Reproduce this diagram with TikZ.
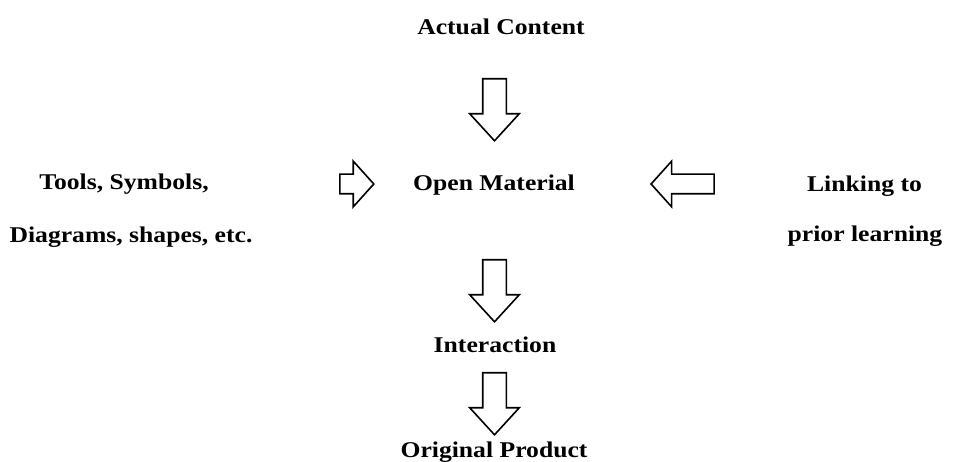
\documentclass[tikz,border=0pt]{standalone}
\usepackage{fontspec}
\setmainfont{Liberation Serif}[FakeStretch=1.14]
\usetikzlibrary{shapes.arrows,positioning}
\tikzset{
  term/.style={font=\fontsize{22.5}{27}\selectfont\bfseries, inner sep=0pt, anchor=base},
  hollow/.style={single arrow, draw, line width=1.6pt, fill=white, inner xsep=0pt,
                 single arrow tip angle=85},
  downarr/.style={hollow, rotate=-90, anchor=tail, inner ysep=11pt,
                  single arrow head extend=13pt, minimum height=62pt},
  sidearr/.style={hollow, inner ysep=9pt, single arrow head extend=13pt, single arrow tip angle=96},
}
\begin{document}
\begin{tikzpicture}[x=1pt, y=-1pt]
  \useasboundingbox (0,0) rectangle (954,462);

  % centre column
  \node[term] (c0) at (501,35) {Actual Content};
  \node[downarr] (d1) at (494.5,78) {};
  \node[term] (om) at (494,191) {Open Material};
  \node[downarr] (d2) at (494.5,259) {};
  \node[term] (ia) at (495,353) {Interaction};
  \node[downarr] (d3) at (494.5,372) {};
  \node[term] (op) at (494,457) {Original Product};

  % left side
  \node[term] (t1) at (124,190) {Tools, Symbols,};
  \node[term] (t2) at (131,243) {Diagrams, shapes, etc.};
  \node[sidearr, minimum height=34pt, anchor=tail] (rt) at (339,184) {};

  % right side
  \node[term] (l1) at (864.5,192) {Linking to};
  \node[term] (l2) at (865,242) {prior learning};
  \node[sidearr, minimum height=63pt, shape border rotate=180, anchor=tip] (lf) at (650,184) {};
\end{tikzpicture}
\end{document}
